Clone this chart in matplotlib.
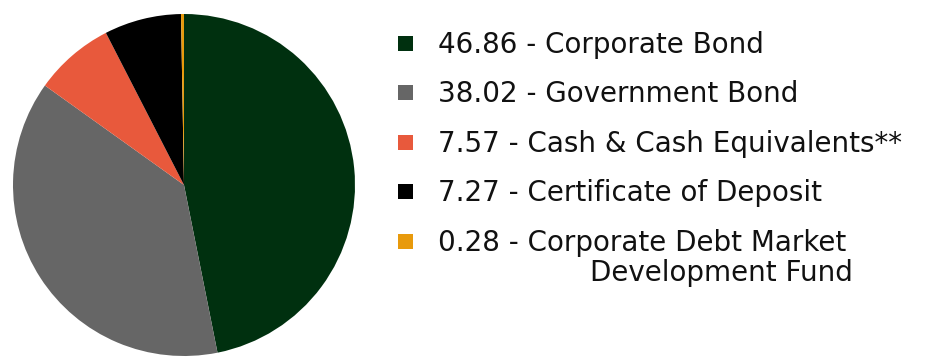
import matplotlib.pyplot as plt
from matplotlib.patches import Rectangle

values = [46.86, 38.02, 7.57, 7.27, 0.28]
labels = ["Corporate Bond", "Government Bond", "Cash & Cash Equivalents**",
          "Certificate of Deposit", "Corporate Debt Market"]
label_extra = {4: "Development Fund"}
colors = ["#00300F", "#666666", "#E8593C", "#000000", "#E89A0C"]

W, H = 929, 363
fig = plt.figure(figsize=(W / 100, H / 100), dpi=100)

# pie
ax = fig.add_axes([13 / W, 7 / H, 342 / W, 342 / H])
ax.pie(values, colors=colors, startangle=90, counterclock=False,
       wedgeprops={"linewidth": 0})
ax.set_xlim(-1, 1)
ax.set_ylim(-1, 1)
ax.set_aspect("equal")

# legend drawn by hand
font = {"family": "DejaVu Sans", "size": 20, "color": "#111111"}
row_y = [44, 93, 143, 192, 242]
for i, (v, lab, c) in enumerate(zip(values, labels, colors)):
    y = row_y[i]
    fig.add_artist(Rectangle((398 / W, 1 - (y + 7) / H), 15 / W, 15 / H,
                             transform=fig.transFigure, color=c, lw=0))
    fig.text(438 / W, 1 - (y + 1) / H, f"{v:.2f} - {lab}", va="center", ha="left", **font)
    if i in label_extra:
        fig.text(590 / W, 1 - (y + 31) / H, label_extra[i], va="center", ha="left", **font)

fig.savefig("out.png", dpi=100)
